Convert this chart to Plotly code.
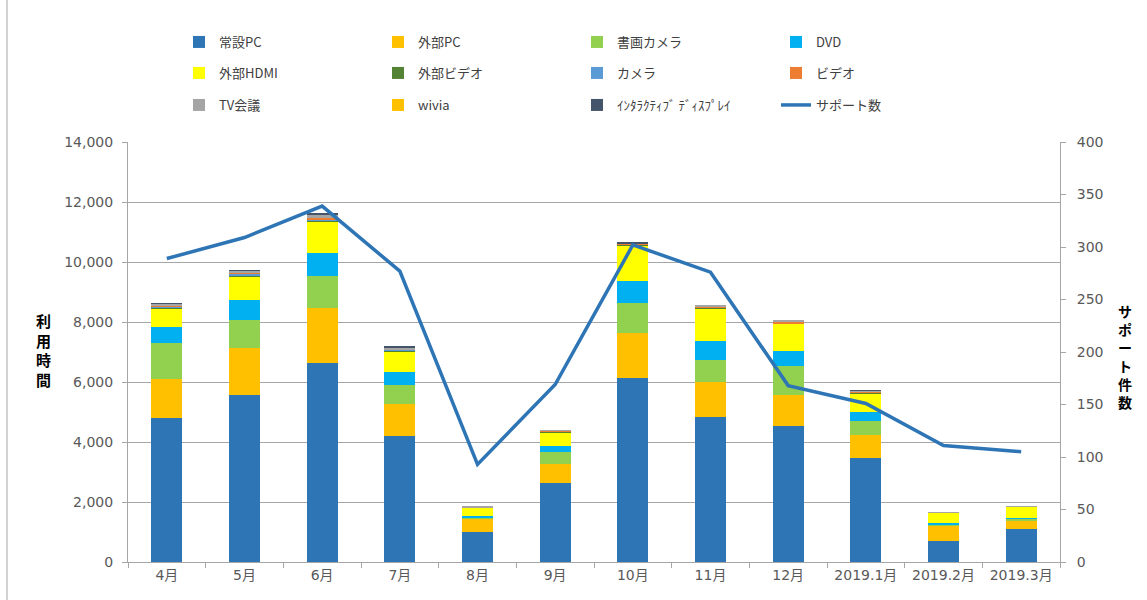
import plotly.graph_objects as go

months = ["4月", "5月", "6月", "7月", "8月", "9月", "10月", "11月", "12月", "2019.1月", "2019.2月", "2019.3月"]

jousetsu_pc = [4800, 5570, 6640, 4210, 990, 2630, 6140, 4830, 4530, 3480, 710, 1090]
gaibu_pc = [1300, 1550, 1830, 1070, 470, 645, 1500, 1170, 1030, 755, 510, 270]
shoga_camera = [1200, 933, 1078, 622, 30, 378, 978, 744, 989, 467, 30, 80]
dvd = [543, 678, 766, 433, 60, 211, 756, 634, 500, 300, 40, 20]
gaibu_hdmi = [613, 800, 1022, 667, 272, 466, 1189, 1066, 900, 622, 355, 380]
gaibu_video = [25, 20, 50, 50, 0, 10, 20, 35, 15, 20, 0, 0]
camera = [35, 60, 40, 20, 0, 0, 0, 0, 0, 0, 0, 0]
video = [30, 10, 50, 0, 0, 30, 30, 45, 55, 30, 0, 0]
tv_kaigi = [60, 90, 110, 80, 15, 25, 20, 30, 33, 30, 20, 20]
wivia = [0, 0, 0, 0, 0, 0, 0, 0, 0, 0, 0, 0]
interactive = [20, 20, 30, 25, 0, 0, 20, 0, 0, 20, 0, 0]
support = [289, 309, 339, 277, 93, 169, 302, 276, 168, 151, 111, 105]

bar_series = [
    ("常設PC", jousetsu_pc, "#2E75B6", "legend"),
    ("外部PC", gaibu_pc, "#FFC000", "legend"),
    ("書画カメラ", shoga_camera, "#92D050", "legend"),
    ("DVD", dvd, "#00B0F0", "legend"),
    ("外部HDMI", gaibu_hdmi, "#FFFF00", "legend2"),
    ("外部ビデオ", gaibu_video, "#548235", "legend2"),
    ("カメラ", camera, "#5B9BD5", "legend2"),
    ("ビデオ", video, "#ED7D31", "legend2"),
    ("TV会議", tv_kaigi, "#A5A5A5", "legend3"),
    ("wivia", wivia, "#FFC000", "legend3"),
    ("ｲﾝﾀﾗｸﾃｨﾌﾞ ﾃﾞｨｽﾌﾟﾚｲ", interactive, "#44546A", "legend3"),
]

FONT = "DejaVu Sans, Noto Sans CJK JP, sans-serif"
JFONT = "Noto Sans CJK JP, sans-serif"
GRAY = "#A6A6A6"
TXT = "#595959"

fig = go.Figure()
for name, vals, color, lg in bar_series:
    fig.add_trace(go.Bar(x=months, y=vals, name=name, marker=dict(color=color, line=dict(width=0)),
                         legend=lg))

fig.add_trace(go.Scatter(x=months, y=support, name="サポート数", yaxis="y2", mode="lines",
                         line=dict(color="#2E75B6", width=3.5), legend="legend3"))

L, R, T, B = 128, 87, 142, 38
PW, PH = 1147 - L - R, 600 - T - B


def px_x(p):
    return (p - L) / PW


def px_y(p):
    return (600 - B - p) / PH


leg_common = dict(orientation="h", xanchor="left", yanchor="middle", x=px_x(179),
                  entrywidth=154, entrywidthmode="pixels", traceorder="normal",
                  font=dict(family=JFONT, size=13, color="#404040"), bgcolor="rgba(0,0,0,0)")

fig.update_layout(
    width=1147, height=600,
    margin=dict(l=L, r=R, t=T, b=B, autoexpand=False),
    paper_bgcolor="white", plot_bgcolor="white",
    barmode="stack", bargap=0.6,
    font=dict(family=FONT, size=14, color=TXT),
    legend=dict(leg_common, y=px_y(42)),
    legend2=dict(leg_common, y=px_y(73)),
    legend3=dict(leg_common, y=px_y(105)),
    xaxis=dict(type="category", tickson="boundaries", ticks="outside", ticklen=5, tickcolor=GRAY,
               showline=True, linecolor=GRAY, linewidth=1, showgrid=False,
               tickfont=dict(family=FONT, size=14, color=TXT)),
    yaxis=dict(range=[0, 14000], dtick=2000, tickformat=",", showgrid=True, gridcolor=GRAY, gridwidth=1,
               showline=True, linecolor=GRAY, ticks="outside", ticklen=5, tickcolor=GRAY,
               zeroline=False, ticklabelstandoff=6,
               tickfont=dict(family=FONT, size=14, color=TXT)),
    yaxis2=dict(range=[0, 400], dtick=50, overlaying="y", side="right", showgrid=False,
                showline=True, linecolor=GRAY, ticks="outside", ticklen=5, tickcolor=GRAY,
                zeroline=False, ticklabelstandoff=8,
                tickfont=dict(family=FONT, size=14, color=TXT)),
    annotations=[
        dict(text="<b>利<br>用<br>時<br>間</b>", xref="paper", yref="paper", x=px_x(43), y=px_y(350),
             xanchor="center", yanchor="middle", showarrow=False,
             font=dict(family=JFONT, size=15, color="#000000")),
        dict(text="<b>サ<br>ポ<br>ー<br>ト<br>件<br>数</b>", xref="paper", yref="paper", x=px_x(1125),
             y=px_y(356), xanchor="center", yanchor="middle", showarrow=False,
             font=dict(family=JFONT, size=14, color="#000000")),
    ],
    shapes=[
        dict(type="line", xref="paper", yref="paper", x0=px_x(7), x1=px_x(7), y0=px_y(600), y1=px_y(0),
             line=dict(color=GRAY, width=1)),
    ],
)

fig.write_html("out.html", config={"displayModeBar": False},
               post_script="document.body.style.margin='0';")
